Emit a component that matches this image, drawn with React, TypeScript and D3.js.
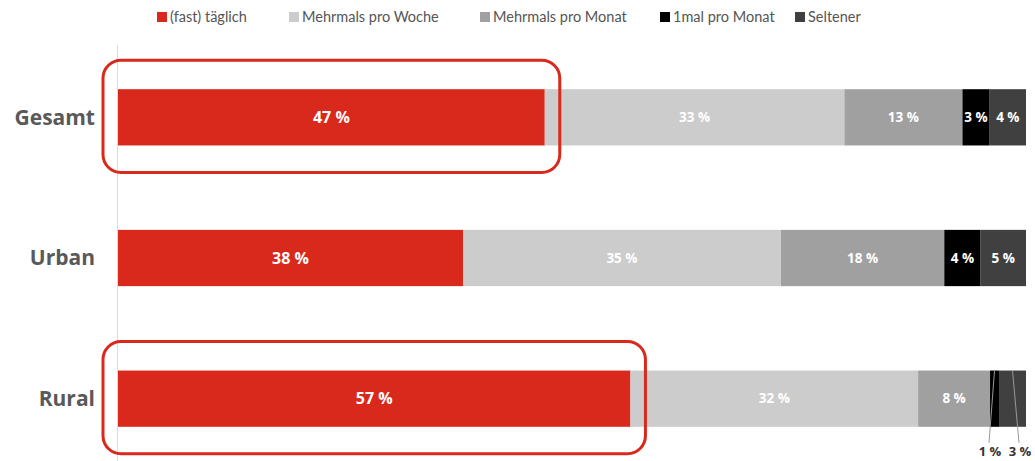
import * as d3 from "d3";

const categories = ["Gesamt", "Urban", "Rural"];
const seriesNames = ["(fast) täglich", "Mehrmals pro Woche", "Mehrmals pro Monat", "1mal pro Monat", "Seltener"];
const colors = ["#d9291c", "#cccccc", "#a0a0a0", "#000000", "#404040"];
const values = [
  [47, 33, 13, 3, 4],
  [38, 35, 18, 4, 5],
  [57, 32, 8, 1, 3],
];
const highlighted = ["Gesamt", "Rural"];
const outsideLabels = [[], [], [3, 4]]; // segment indexes labelled below the bar

const W = 1035;
const H = 461;
const FONT = "Lato, 'Noto Sans', sans-serif";
const BOLD = "'Open Sans', 'Noto Sans', sans-serif";

export default function App() {
  const x = d3.scaleLinear().domain([0, 1]).range([118, 1026]);
  const y = d3.scaleBand().domain(categories).range([47, 469]).paddingInner(0.6).paddingOuter(0.3);
  const bh = y.bandwidth();

  const legendX = [157, 289, 480, 660, 795];

  return (
    <svg width={W} height={H} style={{ position: "absolute", left: 0, top: 0 }} fontFamily={FONT}>
      <line x1={117.5} x2={117.5} y1={45} y2={H} stroke="#dcdcdc" strokeWidth={1} />

      {seriesNames.map((n, i) => (
        <g key={n} transform={`translate(${legendX[i]},0)`}>
          <rect x={0} y={12} width={10} height={10} fill={colors[i]} />
          <text x={13} y={22} fontSize={14.5} fill="#555">{n}</text>
        </g>
      ))}

      {categories.map((c, ci) => {
        const row = values[ci];
        const total = d3.sum(row);
        const stack = d3.cumsum(row).map((v) => v / total);
        const y0 = y(c)!;
        return (
          <g key={c}>
            <text x={95} y={y0 + bh / 2} dy="0.35em" textAnchor="end" fontSize={21} fontWeight={700}
              fontFamily={BOLD} fill="#595959">{c}</text>
            {row.map((v, si) => {
              const a = x(si === 0 ? 0 : stack[si - 1]);
              const b = x(stack[si]);
              const mid = (a + b) / 2;
              const outside = outsideLabels[ci].includes(si);
              return (
                <g key={si}>
                  <rect x={a} y={y0} width={b - a} height={bh} fill={colors[si]} />
                  {!outside && (
                    <text x={mid} y={y0 + bh / 2} dy="0.35em" textAnchor="middle" fill="#fff" fontWeight={700}
                      fontFamily={BOLD} fontSize={si === 0 ? 16 : 13.5}>{v} %</text>
                  )}
                </g>
              );
            })}
            {outsideLabels[ci].map((si, k) => {
              const a = x(si === 0 ? 0 : stack[si - 1]);
              const b = x(stack[si]);
              const mid = (a + b) / 2;
              const lx = k === 0 ? 990 : 1020;
              return (
                <g key={"o" + si}>
                  <line x1={mid} y1={y0} x2={lx - 1} y2={y0 + bh + 16} stroke="#999" strokeWidth={1} />
                  <text x={lx} y={y0 + bh + 29} textAnchor="middle" fontSize={13} fontWeight={700}
                    fontFamily={BOLD} fill="#333">{row[si]} %</text>
                </g>
              );
            })}
            {highlighted.includes(c) && (
              <rect x={x(0) - 15} y={y0 - 29} width={x(stack[0]) - x(0) + 30} height={bh + 56} rx={18}
                fill="none" stroke="#d9291c" strokeWidth={3} />
            )}
          </g>
        );
      })}
    </svg>
  );
}
